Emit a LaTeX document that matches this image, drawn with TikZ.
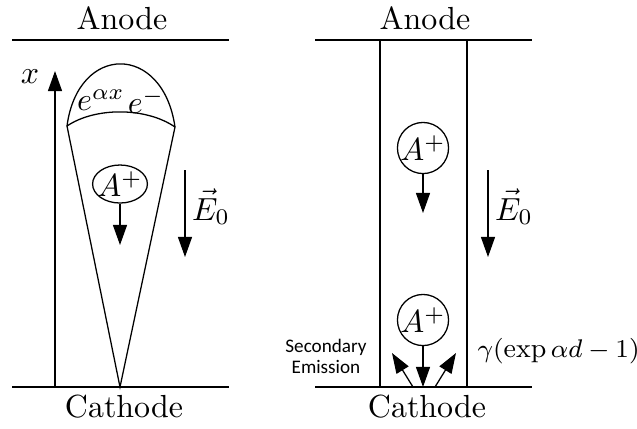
\documentclass[tikz,border=0pt]{standalone}
\usepackage{fontspec}
\newfontfamily\calibri{Carlito}
\usetikzlibrary{arrows.meta,shapes.geometric}
\tikzset{
  fat/.style={-{Triangle[length=6.3pt,width=4.4pt]}},
  ion/.style={circle,draw,inner sep=-0.5pt,minimum size=16pt},
  ionflat/.style={ellipse,draw,inner sep=-1pt,minimum width=15.6pt,minimum height=11.9pt},
  small/.style={font=\calibri\fontsize{6}{6.6}\selectfont,align=center},
}
\begin{document}
\begin{tikzpicture}[x=0.313pt,y=-0.313pt]
  \useasboundingbox (0,0) rectangle (637,428);
  % electrodes and field, both panels
  \foreach \s/\p in {0/L,303/R}
  {
  \draw[shift={(\s,0)}] (12,40) -- (229,40);
  \draw[shift={(\s,0)}] (12,387) -- (229,387);
  \node (anode\p) at (122+\s,18) {Anode};
  \node (cathode\p) at (124+\s,407) {Cathode};
  \coordinate (field\p top) at (185+\s,170);
  \coordinate (field\p tip) at (185+\s,257);
  \draw[fat] (field\p top) -- (field\p tip);
  \node[inner sep=0pt] (field\p label) at (211+\s,207) {$\vec{E}_0$};
  }

  % left: avalanche
  \coordinate (xbase) at (55,387);
  \coordinate (xtip) at (55,71);
  \draw[fat] (xbase) -- (xtip);
  \node (xlabel) at (30,77) {$x$};
  \coordinate (apex) at (120,387);
  \coordinate (coneL) at (67,126);
  \coordinate (coneR) at (175,127);
  \draw (coneL) -- (apex) -- (coneR);
  \draw (coneL) .. controls (78,43) and (163,43) .. (coneR);
  \draw (coneL) .. controls (95,107) and (146,107) .. (coneR);
  \node[inner sep=0pt] (growth) at (101,100) {$e^{\alpha x}$};
  \node[inner sep=0pt] (electron) at (146,101) {$e^-$};
  \node[ionflat] (ionL) at (120,184) {$A^+$};
  \coordinate (ionLtip) at (120,245);
  \draw[fat] (ionL) -- (ionLtip);

  % right: Townsend gap
  \draw (380,40) -- (380,387);
  \draw (467,40) -- (467,387);
  \node[ion] (ionRup) at (423,148) {$A^+$};
  \coordinate (ionRuptip) at (423,213);
  \draw[fat] (ionRup) -- (ionRuptip);
  \node[ion] (ionRdown) at (423,320) {$A^+$};
  \coordinate (ionRdowntip) at (423,387);
  \draw[fat] (ionRdown) -- (ionRdowntip);
  \coordinate (emitLbase) at (413,387);
  \coordinate (emitLtip) at (392,353);
  \coordinate (emitRbase) at (435,387);
  \coordinate (emitRtip) at (456,353);
  \draw[fat] (emitLbase) -- (emitLtip);
  \draw[fat] (emitRbase) -- (emitRtip);
  \node[small] (secondary) at (326,356) {Secondary\\Emission};
  \node[anchor=west,inner sep=0pt,font=\fontsize{8.5}{10}\selectfont] (yield) at (477,351) {$\gamma(\exp\alpha d-1)$};
\end{tikzpicture}
\end{document}
